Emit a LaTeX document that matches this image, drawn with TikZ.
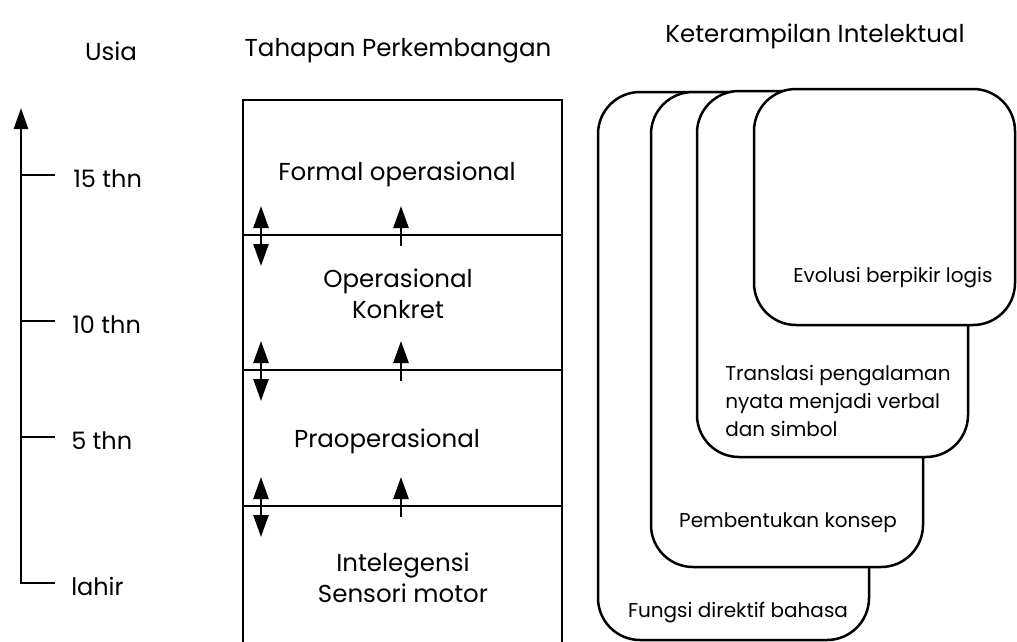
\documentclass[tikz,border=0pt]{standalone}
\usepackage{fontspec}
\setmainfont{Poppins}
\usetikzlibrary{arrows.meta}
\begin{document}
\begin{tikzpicture}[x=1pt,y=-1pt,line width=2.5pt,
  title/.style={font=\fontsize{24.5}{29}\selectfont,anchor=base,inner sep=0pt},
  agelbl/.style={font=\fontsize{24}{29}\selectfont,anchor=base west,inner sep=0pt},
  stage/.style={font=\fontsize{24.5}{29}\selectfont,anchor=base,inner sep=0pt},
  skill/.style={font=\fontsize{20}{24}\selectfont,inner sep=0pt},
  kbox/.style={draw,fill=white,rounded corners=42pt,inner sep=0pt},
  axtip/.style={-{Triangle[length=21pt,width=14pt]}},
  uptip/.style={-{Triangle[length=22pt,width=15pt]}},
  dbltip/.style={{Triangle[length=22pt,width=15pt]}-{Triangle[length=22pt,width=15pt]}}]
\useasboundingbox (0,0) rectangle (1017,642);
\fill[white] (0,0) rectangle (1017,642);

% titles
\node[title] (tU) at (111,61) {Usia};
\node[title] (tT) at (398,57) {Tahapan Perkembangan};
\node[title] (tK) at (815,43) {Keterampilan Intelektual};

% age axis
\coordinate (ax0) at (21,583);
\coordinate (axtop) at (21,108);
\coordinate (k0) at (55,583);
\draw[axtip] (k0) -- (ax0) -- (axtop);
\coordinate (a15) at (21,175); \coordinate (k15) at (55,175);
\coordinate (a10) at (21,321); \coordinate (k10) at (55,321);
\coordinate (a5) at (21,437);  \coordinate (k5) at (55,437);
\draw (a15) -- (k15);
\draw (a10) -- (k10);
\draw (a5) -- (k5);
\node[agelbl] (l15) at (72,187) {15 thn};
\node[agelbl] (l10) at (71,333) {10 thn};
\node[agelbl] (l5) at (70,449) {5 thn};
\node[agelbl] (l0) at (70,595) {lahir};

% stages column
\draw (243,645) -- (243,100) -- (562,100) -- (562,645);
\draw (243,235) -- (562,235);
\draw (243,370) -- (562,370);
\draw (243,506) -- (562,506);

\node[stage] (s4) at (397,180) {Formal operasional};
\node[stage] (s3a) at (398,287) {Operasional};
\node[stage] (s3b) at (398,318) {Konkret};
\node[stage] (s2) at (387,447) {Praoperasional};
\node[stage] (s1a) at (403,571) {Intelegensi};
\node[stage] (s1b) at (403,602) {Sensori motor};

% arrows between stages
\coordinate (d1t) at (261,206); \coordinate (d1b) at (261,266);
\coordinate (u1t) at (401,206); \coordinate (u1b) at (401,246);
\coordinate (d2t) at (261,341); \coordinate (d2b) at (261,401);
\coordinate (u2t) at (401,341); \coordinate (u2b) at (401,381);
\coordinate (d3t) at (261,477); \coordinate (d3b) at (261,537);
\coordinate (u3t) at (401,477); \coordinate (u3b) at (401,517);
\draw[dbltip] (d1t) -- (d1b);
\draw[dbltip] (d2t) -- (d2b);
\draw[dbltip] (d3t) -- (d3b);
\draw[uptip] (u1b) -- (u1t);
\draw[uptip] (u2b) -- (u2t);
\draw[uptip] (u3b) -- (u3t);

% intellectual skills (overlapping rounded boxes)
\node[kbox,minimum width=271pt,minimum height=548pt] (b1) at (733.5,366) {};
\node[kbox,minimum width=272pt,minimum height=475pt] (b2) at (787,329.5) {};
\node[kbox,minimum width=271pt,minimum height=366pt] (b3) at (832.5,274) {};
\node[kbox,minimum width=261pt,minimum height=236pt] (b4) at (884.5,207) {};

\node[skill,anchor=base] (t4) at (893,282) {Evolusi berpikir logis};
\node[skill,anchor=base west] (t3a) at (724,380) {Translasi pengalaman};
\node[skill,anchor=base west] (t3b) at (724,408) {nyata menjadi verbal};
\node[skill,anchor=base west] (t3c) at (724,436) {dan simbol};
\node[skill,anchor=base] (t2) at (788,527) {Pembentukan konsep};
\node[skill,anchor=base] (t1) at (738,617) {Fungsi direktif bahasa};
\end{tikzpicture}
\end{document}
